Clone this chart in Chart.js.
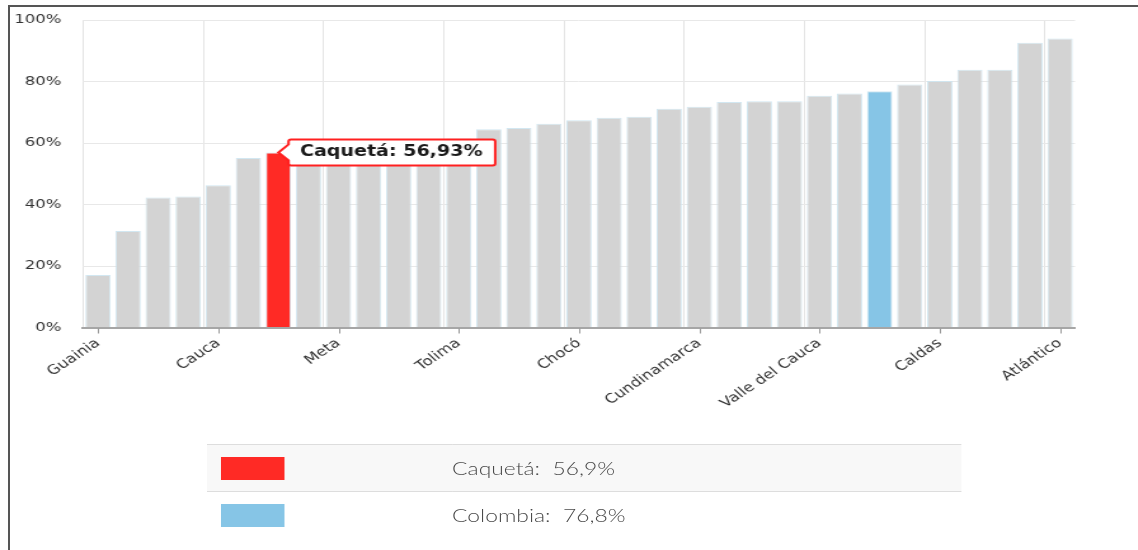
<!DOCTYPE html>
<html>
<head>
<meta charset="utf-8">
<script src="https://cdn.jsdelivr.net/npm/chart.js@4.4.1/dist/chart.umd.min.js"></script>
<style>
  html, body { margin: 0; padding: 0; background: #fff; overflow: hidden; }
  body { width: 1138px; height: 550px; position: relative; }
  /* the source screenshot is stretched sideways, so the whole chart is drawn narrow and stretched */
  #wrap { position: absolute; left: 0; top: 0; width: 896px; height: 550px; transform: scaleX(1.27); transform-origin: 0 0; }
  #frame { position: absolute; left: 8px; top: 5px; width: 1200px; height: 600px; border-top: 2px solid #555; border-left: 2px solid #555; }
  #legend { position: absolute; left: 163px; top: 444px; width: 594px; border-collapse: collapse; font-family: Lato, "Open Sans", sans-serif; font-weight: 300; font-size: 18px; color: #4a4a4a; }
  #legend td { padding: 0; vertical-align: middle; }
  #legend tr { height: 47px; }
  #legend tr.odd { background: #f8f8f8; border-top: 1px solid #ddd; border-bottom: 1px solid #ddd; }
  #legend .sw { width: 50px; height: 23px; margin-left: 11px; }
</style>
</head>
<body>
<div id="frame"></div>
<div id="wrap">
  <canvas id="bar-chart" width="896" height="430"></canvas>
  <table id="legend"></table>
</div>
<script>
// departamentos ordenados de menor a mayor
var categories = ['Guainia', 'Vaupés', 'Vichada', 'La Guajira', 'Cauca', 'Amazonas', 'Caquetá', 'Putumayo',
  'Meta', 'Nariño', 'Córdoba', 'Sucre', 'Tolima', 'Magdalena', 'Cesar', 'Huila', 'Chocó', 'Arauca',
  'Casanare', 'Bolívar', 'Cundinamarca', 'Norte de Santander', 'Boyacá', 'Antioquia', 'Valle del Cauca',
  'Santander', 'Colombia', 'Risaralda', 'Caldas', 'Quindío', 'San Andrés', 'Bogotá', 'Atlántico'];
var values = [17.1, 31.4, 42.3, 42.6, 46.3, 55.1, 56.93, 57.6, 58.4, 59.2, 60.0, 60.8, 61.5,
  64.5, 64.9, 66.3, 67.4, 68.2, 68.5, 71.1, 71.8, 73.3, 73.6, 73.6, 75.4, 76.1, 76.8,
  79.0, 80.2, 83.8, 83.8, 92.6, 94.0];
var yTicks = [0, 20, 40, 60, 80, 100];

var highlightName = 'Caquetá';
var nationalName = 'Colombia';
var highlightColor = '#ff2a25';
var nationalColor = '#86c5e6';
var baseColor = '#d3d3d3';

var colors = categories.map(function(c) {
  if (c === highlightName) return highlightColor;
  if (c === nationalName) return nationalColor;
  return baseColor;
});

function fmt(v, d) { return v.toFixed(d).replace('.', ',') + '%'; }

// marcas del eje x en el centro de las barras con etiqueta
var tickMarks = {
  id: 'tickMarks',
  afterDraw: function(chart) {
    var xs = chart.scales.x, ctx = chart.ctx, b = chart.chartArea.bottom;
    ctx.save();
    ctx.strokeStyle = '#999';
    ctx.lineWidth = 1;
    for (var i = 0; i < categories.length; i += 4) {
      var x = Math.round(xs.getPixelForValue(i)) + 0.5;
      ctx.beginPath();
      ctx.moveTo(x, b + 1);
      ctx.lineTo(x, b + 6);
      ctx.stroke();
    }
    ctx.restore();
  }
};

Chart.defaults.font.family = 'DejaVu Sans';
Chart.defaults.font.size = 13;
Chart.defaults.color = '#333';

var config = {
  type: 'bar',
  data: {
    labels: categories,
    datasets: [{
      data: values,
      backgroundColor: colors,
      borderColor: 'rgba(205,228,240,0.9)',
      borderWidth: 1,
      categoryPercentage: 1,
      barPercentage: 0.84
    }]
  },
  options: {
    responsive: false,
    animation: false,
    events: [],
    layout: { padding: { top: 20, right: 49.5, left: 0, bottom: 0 } },
    plugins: {
      legend: { display: false },
      tooltip: {
        enabled: true,
        xAlign: 'left',
        yAlign: 'center',
        backgroundColor: '#fff',
        borderColor: '#ff2020',
        borderWidth: 2,
        cornerRadius: 2,
        caretSize: 8,
        caretPadding: 0,
        displayColors: false,
        padding: { top: 4, bottom: 4, left: 9, right: 10 },
        bodyColor: '#1a1a1a',
        bodyFont: { family: 'DejaVu Sans', size: 15, weight: 'bold' },
        callbacks: {
          title: function() { return ''; },
          label: function(ctx) { return ctx.label + ': ' + fmt(ctx.parsed.y, 2); }
        }
      }
    },
    scales: {
      x: {
        grid: {
          offset: true,
          drawTicks: false,
          color: function(ctx) { return ctx.index % 4 === 0 ? '#e4e4e4' : 'rgba(0,0,0,0)'; }
        },
        border: { display: true, color: '#a6a6a6', width: 2 },
        ticks: {
          autoSkip: false,
          minRotation: 40,
          maxRotation: 40,
          padding: 8,
          callback: function(v, i) { return i % 4 === 0 ? categories[i] : ''; }
        },
        afterFit: function(s) { s.height = 102.5; }
      },
      y: {
        min: 0,
        max: 100,
        grid: { color: '#e8e8e8', drawTicks: false },
        border: { display: false },
        afterBuildTicks: function(s) { s.ticks = yTicks.map(function(v) { return { value: v }; }); },
        ticks: { padding: 17, callback: function(v) { return v + '%'; } },
        afterFit: function(s) {
          s.width = 65.35;
          s.paddingTop = 8;
          s.paddingBottom = 8;
        }
      }
    }
  },
  plugins: [tickMarks]
};

var ctx = document.getElementById('bar-chart').getContext('2d');
var chart = new Chart(ctx, config);
chart.tooltip.setActiveElements([{ datasetIndex: 0, index: categories.indexOf(highlightName) }], { x: 0, y: 0 });
chart.update();

// leyenda
var legendNames = [highlightName, nationalName];
var table = document.getElementById('legend');
legendNames.forEach(function(name, k) {
  var i = categories.indexOf(name);
  var tr = document.createElement('tr');
  if (k === 0) tr.className = 'odd';
  tr.innerHTML = '<td style="width:193px"><div class="sw" style="background:' + colors[i] + '"></div></td>' +
    '<td>' + name + ':&nbsp;&nbsp;' + fmt(values[i], 1) + '</td>';
  table.appendChild(tr);
});
</script>
</body>
</html>
